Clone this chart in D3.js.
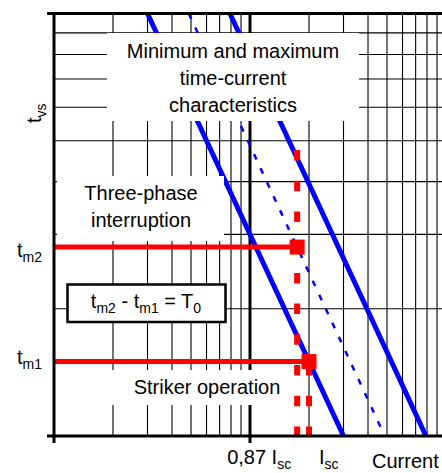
<!DOCTYPE html>
<html>
<head>
<meta charset="utf-8">
<script src="https://cdn.jsdelivr.net/npm/d3@7/dist/d3.min.js"></script>
<style>
  html, body { margin: 0; padding: 0; background: #fff; }
  svg { display: block; }
  text { font-family: "Liberation Sans", Arial, sans-serif; fill: #000; }
</style>
</head>
<body>
<svg id="chart" width="442" height="473"></svg>
<script>
// Log-log time-current diagram (current on x, time on y)
const currentDomain = [1, 100];
const timeDomain = [1, 10];
const currentGrid = [2, 3, 4, 5, 6, 7, 8, 9, 10, 20, 30, 40, 50, 60, 70, 80, 90];
const timeGrid = [2, 3, 4, 5, 6, 7, 8, 9];
const currentMarked = 10;            // heavy gridline with a tick below the axis

// Characteristics as [current, time] end points
const minCharacteristic = [[3.0, 10], [30, 1]];
const midCharacteristic = [[4.87, 10], [48.7, 1]];   // dotted
const maxCharacteristic = [[7.9, 10], [79, 1]];

// Operating points
const Isc = 20;
const I087 = 17.4;                   // 0,87 Isc
const tm1 = 1.5;
const tm2 = 2.8;
const dashTopTime = 4.75;

const xTickLabels = [
  { parts: [["0,87 I", false], ["sc", true]], at: I087, dx: -70 },
  { parts: [["I", false], ["sc", true]], at: Isc, dx: 10 }
];

const svg = d3.select("#chart");
const x = d3.scaleLog().domain(currentDomain).range([54, 446]);
const y = d3.scaleLog().domain(timeDomain).range([436, 13.5]);

const yTop = y(timeDomain[1]), yBot = y(timeDomain[0]);
const xLeft = x(currentDomain[0]);

// grid
const grid = svg.append("g");
grid.selectAll("line.v").data(currentGrid.filter(d => d !== currentMarked)).join("line")
  .attr("x1", d => x(d)).attr("x2", d => x(d))
  .attr("y1", yTop).attr("y2", yBot)
  .attr("stroke", "#000").attr("stroke-width", 1.1);
grid.selectAll("line.h").data(timeGrid).join("line")
  .attr("x1", xLeft).attr("x2", 442)
  .attr("y1", d => y(d)).attr("y2", d => y(d))
  .attr("stroke", "#000").attr("stroke-width", 1.1);
grid.append("line")
  .attr("x1", x(currentMarked)).attr("x2", x(currentMarked))
  .attr("y1", yTop).attr("y2", yBot + 7)
  .attr("stroke", "#000").attr("stroke-width", 3);

// characteristics
const line = d3.line().x(d => x(d[0])).y(d => y(d[1]));
svg.append("path").datum(minCharacteristic).attr("d", line)
  .attr("fill", "none").attr("stroke", "#0000ff").attr("stroke-width", 5);
svg.append("path").datum(maxCharacteristic).attr("d", line)
  .attr("fill", "none").attr("stroke", "#0000ff").attr("stroke-width", 5);
svg.append("path").datum(midCharacteristic).attr("d", line)
  .attr("fill", "none").attr("stroke", "#0000ff").attr("stroke-width", 2.5)
  .attr("stroke-dasharray", "6,9.5");

// red dashed verticals at 0,87 Isc and Isc
const dashOn = 10.5, dashOff = 20.2;
svg.append("line")
  .attr("x1", x(I087)).attr("x2", x(I087))
  .attr("y1", y(dashTopTime)).attr("y2", yBot)
  .attr("stroke", "#ff0000").attr("stroke-width", 6)
  .attr("stroke-dasharray", `${dashOn},${dashOff}`);
svg.append("line")
  .attr("x1", x(Isc)).attr("x2", x(Isc))
  .attr("y1", y(tm1)).attr("y2", yBot)
  .attr("stroke", "#ff0000").attr("stroke-width", 6)
  .attr("stroke-dasharray", `${dashOn},${dashOff}`)
  .attr("stroke-dashoffset", (y(tm1) - y(dashTopTime)) % (dashOn + dashOff));

// red time levels with end markers
const points = [[I087, tm2], [Isc, tm1]];
svg.selectAll("line.tm").data(points).join("line")
  .attr("x1", xLeft).attr("x2", d => x(d[0]))
  .attr("y1", d => y(d[1])).attr("y2", d => y(d[1]))
  .attr("stroke", "#ff0000").attr("stroke-width", 5);
svg.selectAll("rect.pt").data(points).join("rect")
  .attr("x", d => x(d[0]) - 7.5).attr("y", d => y(d[1]) - 7.5)
  .attr("width", 15).attr("height", 15).attr("fill", "#ff0000");

// text helper with subscripts
function richText(g, parts, size, subSize) {
  parts.forEach(([s, sub], i) => {
    const prevSub = i > 0 && parts[i - 1][1];
    const t = g.append("tspan").text(s).attr("font-size", sub ? subSize : size);
    if (sub && !prevSub) t.attr("dy", 5);
    if (!sub && prevSub) t.attr("dy", -5);
  });
  return g;
}

// white label boxes
function box(x0, y0, x1, y1, border) {
  svg.append("rect").attr("x", x0).attr("y", y0)
    .attr("width", x1 - x0).attr("height", y1 - y0)
    .attr("fill", "#fff")
    .attr("stroke", border ? "#000" : "none").attr("stroke-width", 2.5);
}

box(107, 33, 359, 121, false);
[["Minimum and maximum", 58], ["time-current", 84.5], ["characteristics", 112]].forEach(([s, by]) =>
  svg.append("text").attr("x", 233).attr("y", by).attr("text-anchor", "middle")
    .attr("font-size", 20).text(s));

box(57, 176, 224, 241, false);
[["Three-phase", 200], ["interruption", 227]].forEach(([s, by]) =>
  svg.append("text").attr("x", 141).attr("y", by).attr("text-anchor", "middle")
    .attr("font-size", 20).text(s));

box(100, 370, 291, 405, false);
svg.append("text").attr("x", 207).attr("y", 394).attr("text-anchor", "middle")
  .attr("font-size", 20).text("Striker operation");

box(67.5, 284.5, 225.5, 322, true);
richText(svg.append("text").attr("x", 146).attr("y", 308).attr("text-anchor", "middle"),
  [["t", false], ["m2", true], [" - t", false], ["m1", true], [" = T", false], ["0", true]], 20, 14);

// axes
svg.append("line").attr("x1", 47).attr("x2", 442).attr("y1", yTop).attr("y2", yTop)
  .attr("stroke", "#000").attr("stroke-width", 3);
svg.append("line").attr("x1", 47).attr("x2", 442).attr("y1", yBot).attr("y2", yBot)
  .attr("stroke", "#000").attr("stroke-width", 3);
svg.append("line").attr("x1", xLeft).attr("x2", xLeft).attr("y1", yTop - 1.5).attr("y2", yBot + 7)
  .attr("stroke", "#000").attr("stroke-width", 3);

// axis labels
richText(svg.append("text").attr("transform", "translate(41,123) rotate(-90)"),
  [["t", false], ["vs", true]], 20, 14);
richText(svg.append("text").attr("x", 17).attr("y", y(tm2) + 10),
  [["t", false], ["m2", true]], 20, 14);
richText(svg.append("text").attr("x", 17).attr("y", y(tm1) + 2),
  [["t", false], ["m1", true]], 20, 14);

xTickLabels.forEach(l =>
  richText(svg.append("text").attr("x", x(l.at) + l.dx).attr("y", 464), l.parts, 20, 14));
svg.append("text").attr("x", 372).attr("y", 468).attr("font-size", 20).text("Current");
</script>
</body>
</html>
